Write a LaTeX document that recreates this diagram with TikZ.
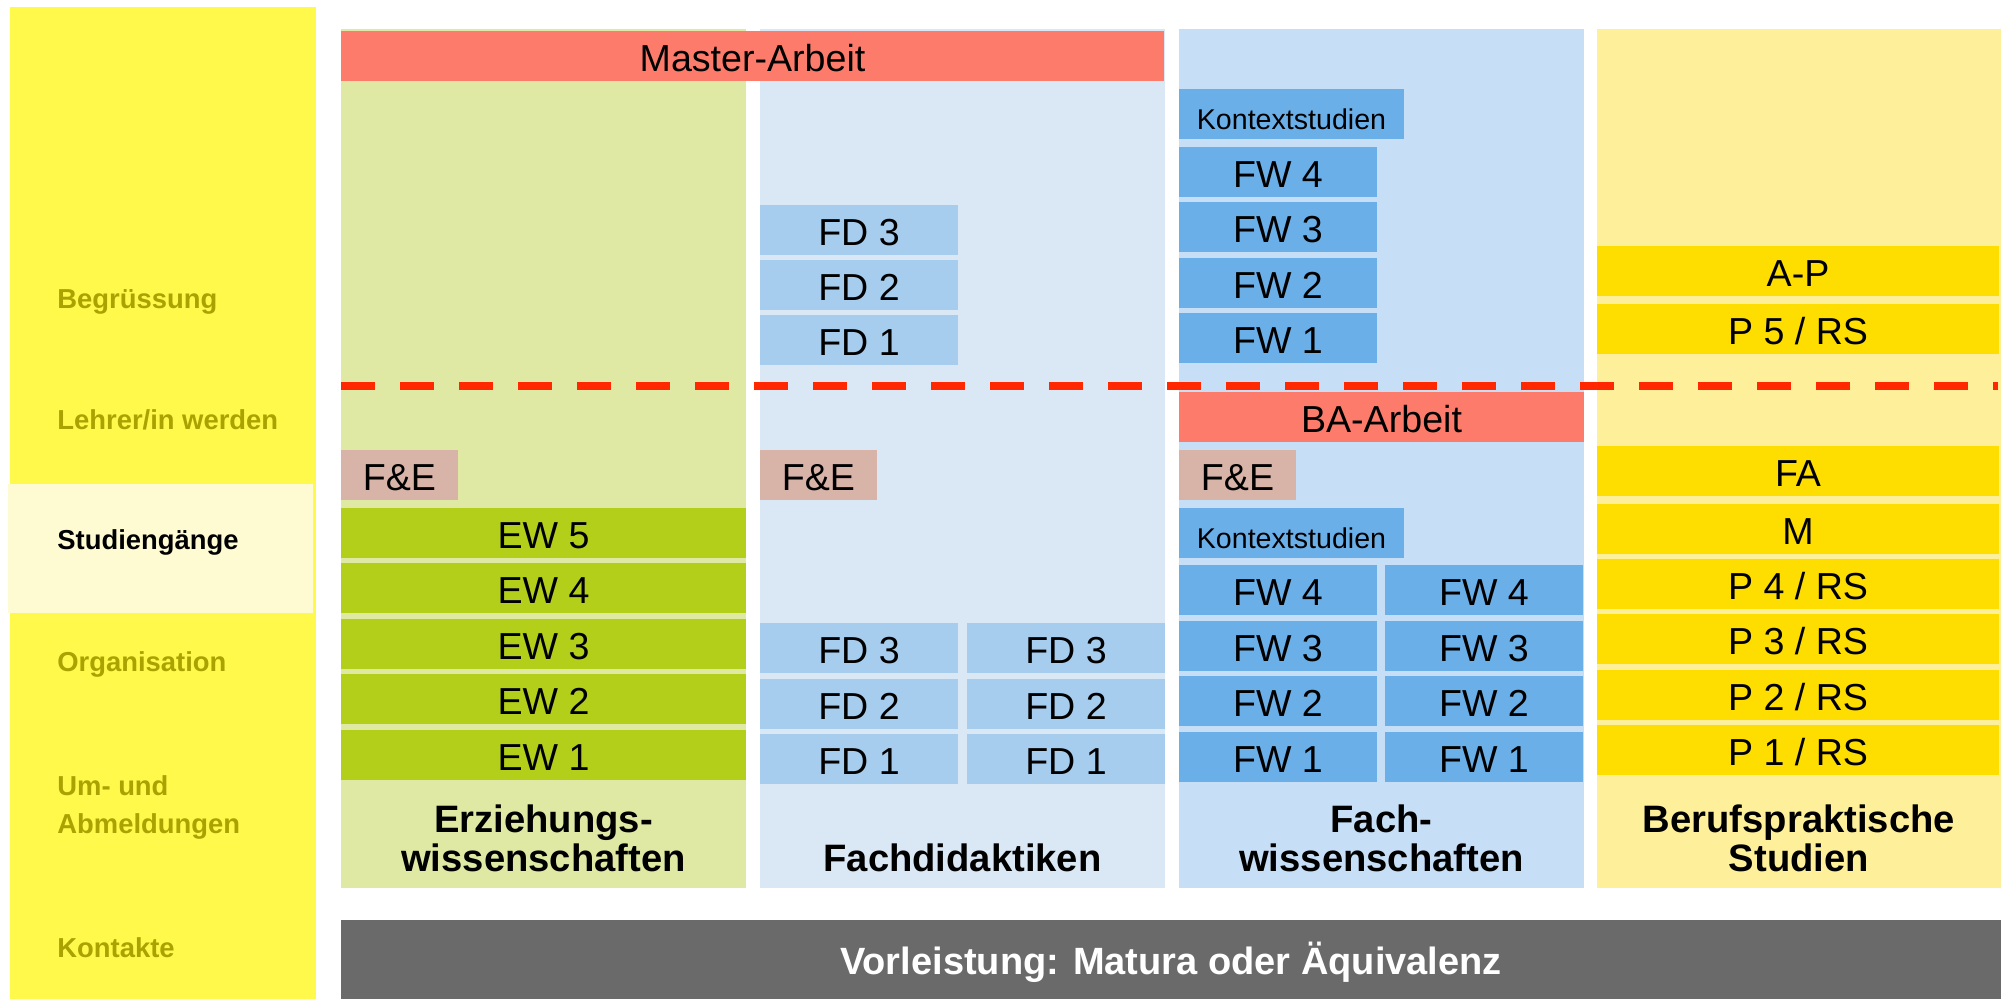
\documentclass[tikz,border=0pt]{standalone}
\usepackage{fontspec}
\setmainfont{Liberation Sans}
\usepackage{xcolor}
\usepackage{tikz}
\definecolor{sideyellow}{HTML}{FEF94B}
\definecolor{studcream}{HTML}{FEFBD2}
\definecolor{labelolive}{HTML}{A9A200}
\definecolor{ewbg}{HTML}{E0E9A3}
\definecolor{ewgreen}{HTML}{B4CF1A}
\definecolor{fdbg}{HTML}{DAE8F6}
\definecolor{fdblue}{HTML}{A6CCEE}
\definecolor{fwbg}{HTML}{C6DFF6}
\definecolor{fwblue}{HTML}{6BAFE9}
\definecolor{pbg}{HTML}{FEF09A}
\definecolor{pyellow}{HTML}{FEDD00}
\definecolor{salmon}{HTML}{FD7B6A}
\definecolor{fepink}{HTML}{D8B3A8}
\definecolor{dashred}{HTML}{FF2800}
\definecolor{bargray}{HTML}{6A6A6A}
\tikzset{
	cell/.style={inner sep=0pt, outer sep=0pt, anchor=north west, minimum height=25pt,
			text height=15.5pt, text depth=0pt, font=\fontsize{18.8pt}{20pt}\selectfont},
	ewcell/.style={cell, fill=ewgreen, minimum width=202.5pt},
	fdcell/.style={cell, fill=fdblue, minimum width=99pt},
	fwcell/.style={cell, fill=fwblue, minimum width=99pt},
	kscell/.style={cell, fill=fwblue, minimum width=112.5pt, font=\fontsize{14.3pt}{16pt}\selectfont},
	pcell/.style={cell, fill=pyellow, minimum width=201pt},
	arbeit/.style={cell, fill=salmon},
	fecell/.style={cell, fill=fepink, minimum width=58.5pt},
	sidelabel/.style={anchor=base west, inner sep=0pt, align=left, text=labelolive,
			font=\bfseries\fontsize{13.7pt}{19pt}\selectfont},
	colhead/.style={anchor=base, inner sep=0pt, align=center,
			font=\bfseries\fontsize{19.1pt}{19.3pt}\selectfont}
}

\begin{document}
\begin{tikzpicture}[x=0.5pt, y=-0.5pt]
		\useasboundingbox (0,0) rectangle (2008,999);
		\fill[sideyellow] (10,7) rectangle (316,999);
		\fill[studcream] (8,484) rectangle (313,613);
		\node[sidelabel] (begr) at (57,309) {Begrüssung};
		\node[sidelabel] (lehrer) at (57,430) {Lehrer/in werden};
		\node[sidelabel, text=black] (studg) at (57,550) {Studiengänge};
		\node[sidelabel] (orga) at (57,672) {Organisation};
		\node[sidelabel] (umab) at (57,833) {Um- und\\Abmeldungen};
		\node[sidelabel] (kont) at (57,957) {Kontakte};

		\fill[ewbg] (341,29) rectangle (746,888);
		\fill[fdbg] (760,29) rectangle (1165,888);
		\fill[fwbg] (1179,29) rectangle (1584,888);
		\fill[pbg] (1597,29) rectangle (2001,888);

		\node[arbeit, minimum width=411.5pt] (master) at (341,31) {Master-Arbeit};
		\node[fdcell] (fdm3) at (760,205) {FD 3};
		\node[fdcell] (fdm2) at (760,260) {FD 2};
		\node[fdcell] (fdm1) at (760,315) {FD 1};
		\node[kscell] (ksm) at (1179,89) {Kontextstudien};
		\node[fwcell] (fwm4) at (1179,147) {FW 4};
		\node[fwcell] (fwm3) at (1179,202) {FW 3};
		\node[fwcell] (fwm2) at (1179,258) {FW 2};
		\node[fwcell] (fwm1) at (1179,313) {FW 1};
		\node[pcell] (ap) at (1597,246) {A-P};
		\node[pcell] (p5) at (1597,304) {P 5 / RS};

		\draw[dashred, line width=4.25pt, dash pattern=on 17pt off 12.5pt] (341,386) -- (1998,386);

		\node[arbeit, minimum width=202.5pt] (ba) at (1179,392) {BA-Arbeit};
		\node[fecell] (fe1) at (341,450) {F\&E};
		\node[fecell] (fe2) at (760,450) {F\&E};
		\node[fecell] (fe3) at (1179,450) {F\&E};

		\node[ewcell] (ew5) at (341,508) {EW 5};
		\node[ewcell] (ew4) at (341,563) {EW 4};
		\node[ewcell] (ew3) at (341,619) {EW 3};
		\node[ewcell] (ew2) at (341,674) {EW 2};
		\node[ewcell] (ew1) at (341,730) {EW 1};

		\node[fdcell] (fda3) at (760,623) {FD 3};
		\node[fdcell] (fda2) at (760,679) {FD 2};
		\node[fdcell] (fda1) at (760,734) {FD 1};
		\node[fdcell] (fdb3) at (967,623) {FD 3};
		\node[fdcell] (fdb2) at (967,679) {FD 2};
		\node[fdcell] (fdb1) at (967,734) {FD 1};

		\node[kscell] (ksb) at (1179,508) {Kontextstudien};
		\node[fwcell] (fwa4) at (1179,565) {FW 4};
		\node[fwcell] (fwa3) at (1179,621) {FW 3};
		\node[fwcell] (fwa2) at (1179,676) {FW 2};
		\node[fwcell] (fwa1) at (1179,732) {FW 1};
		\node[fwcell] (fwb4) at (1385,565) {FW 4};
		\node[fwcell] (fwb3) at (1385,621) {FW 3};
		\node[fwcell] (fwb2) at (1385,676) {FW 2};
		\node[fwcell] (fwb1) at (1385,732) {FW 1};

		\node[pcell] (fa) at (1597,446) {FA};
		\node[pcell] (mm) at (1597,504) {M};
		\node[pcell] (p4) at (1597,559) {P 4 / RS};
		\node[pcell] (p3) at (1597,614) {P 3 / RS};
		\node[pcell] (p2) at (1597,670) {P 2 / RS};
		\node[pcell] (p1) at (1597,725) {P 1 / RS};

		\node[colhead] (hew) at (543.5,871) {Erziehungs-\\wissenschaften};
		\node[colhead] (hfd) at (962.5,871) {Fachdidaktiken};
		\node[colhead] (hfw) at (1381.5,871) {Fach-\\wissenschaften};
		\node[colhead] (hbp) at (1799,871) {Berufspraktische\\Studien};

		\fill[bargray] (341,920) rectangle (2001,999);
		\node[anchor=base, inner sep=0pt, text=white, font=\bfseries\fontsize{19pt}{20pt}\selectfont]
			(vorl) at (1171,974) {Vorleistung: Matura oder Äquivalenz};
	\end{tikzpicture}
\end{document}
